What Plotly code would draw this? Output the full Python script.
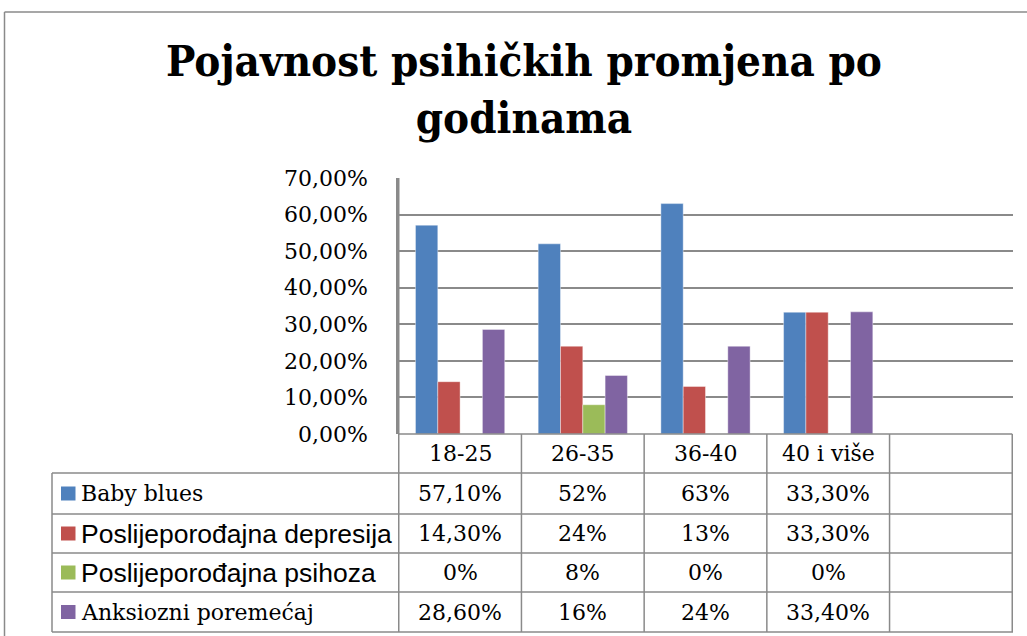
import plotly.graph_objects as go

categories = ["18-25", "26-35", "36-40", "40 i više", " "]
series_names = ["Baby blues", "Poslijeporođajna depresija",
                "Poslijeporođajna psihoza", "Anksiozni poremećaj"]
baby_blues = [0.571, 0.52, 0.63, 0.333, None]
depresija = [0.143, 0.24, 0.13, 0.333, None]
psihoza = [0.0, 0.08, 0.0, 0.0, None]
anksiozni = [0.286, 0.16, 0.24, 0.334, None]
table_text = [
    ["57,10%", "52%", "63%", "33,30%", ""],
    ["14,30%", "24%", "13%", "33,30%", ""],
    ["0%", "8%", "0%", "0%", ""],
    ["28,60%", "16%", "24%", "33,40%", ""],
]
colors = ["#4F81BD", "#C0504D", "#9BBB59", "#8064A2"]
label_fonts = [("DejaVu Serif", 22), ("Liberation Sans", 26.5),
               ("Liberation Sans", 26.5), ("DejaVu Serif", 22)]

W, H = 1027, 636
L, R, T, B = 398, 14, 178, 202
PW, PH = W - L - R, H - T - B
GRID = "#8a8a8a"


def px(x):
    return (x - L) / PW


def py(y):
    return (H - B - y) / PH


fig = go.Figure()
for name, vals, c in zip(series_names, [baby_blues, depresija, psihoza, anksiozni], colors):
    fig.add_trace(go.Bar(x=categories, y=vals, name=name, marker_color=c,
                         marker_line=dict(color="rgba(255,255,255,0.5)", width=0.8)))

# table geometry (pixels)
row_edges = [434, 473, 514, 553, 592, 632]
left_edge = 52
line = dict(color=GRID, width=1.5)
shapes = []
shapes.append(dict(type="line", xref="x", yref="paper", x0=-0.5, x1=4.5,
                   y0=py(row_edges[0]), y1=py(row_edges[0]), line=line))
for ye in row_edges[1:]:
    shapes.append(dict(type="line", xref="paper", yref="paper", x0=px(left_edge), x1=1,
                       y0=py(ye), y1=py(ye), line=line))
for i in range(len(categories) + 1):
    shapes.append(dict(type="line", xref="x", yref="paper", x0=i - 0.5, x1=i - 0.5,
                       y0=py(row_edges[0]) if i > 0 else 1, y1=py(row_edges[-1]), line=line))
shapes.append(dict(type="line", xref="paper", yref="paper", x0=px(left_edge), x1=px(left_edge),
                   y0=py(row_edges[1]), y1=py(row_edges[-1]), line=line))
# outer chart border
shapes.append(dict(type="line", xref="paper", yref="paper", x0=px(4.5), x1=px(W + 20),
                   y0=py(12), y1=py(12), line=line))
shapes.append(dict(type="line", xref="paper", yref="paper", x0=px(4.5), x1=px(4.5),
                   y0=py(12), y1=py(H + 20), line=line))

annotations = []
# title
annotations.append(dict(x=px(524), y=py(89), xref="paper", yref="paper",
                        text="<b>Pojavnost psihičkih promjena po<br>godinama</b>",
                        showarrow=False, xanchor="center", yanchor="middle",
                        font=dict(family="DejaVu Serif Condensed", size=43.5, color="black")))
# header row
hc = (row_edges[0] + row_edges[1]) / 2
for cat in categories:
    annotations.append(dict(x=cat, y=py(hc), xref="x", yref="paper", text=cat, showarrow=False,
                            xanchor="center", yanchor="middle",
                            font=dict(family="DejaVu Serif", size=22, color="black")))
# data rows
for r, (name, c, (fam, fs)) in enumerate(zip(series_names, colors, label_fonts)):
    yc = (row_edges[r + 1] + row_edges[r + 2]) / 2
    shapes.append(dict(type="rect", xref="paper", yref="paper", x0=px(61), x1=px(75.5),
                       y0=py(yc - 7), y1=py(yc + 7), fillcolor=c, line=dict(width=0)))
    annotations.append(dict(x=px(78.5), y=py(yc), xref="paper", yref="paper", text=name,
                            xanchor="left", yanchor="middle", showarrow=False,
                            font=dict(family=fam, size=fs, color="black")))
    for cat, t in zip(categories, table_text[r]):
        annotations.append(dict(x=cat, y=py(yc), xref="x", yref="paper", text=t, showarrow=False,
                                xanchor="center", yanchor="middle",
                                font=dict(family="DejaVu Serif", size=22, color="black")))

fig.update_layout(
    width=W, height=H,
    margin=dict(l=L, r=R, t=T, b=B),
    paper_bgcolor="white", plot_bgcolor="white",
    separators=", ",
    barmode="group", bargap=1.5 / 5.5, bargroupgap=0,
    showlegend=False,
    xaxis=dict(showticklabels=False, showgrid=False, showline=False, ticks=""),
    yaxis=dict(range=[0, 0.7], dtick=0.1, tickformat=".2%", showgrid=True, gridcolor=GRID,
               gridwidth=1.5, zeroline=False, showline=True, linecolor=GRID, linewidth=1.5,
               ticks="", ticklabelstandoff=24,
               tickfont=dict(family="DejaVu Serif", size=22, color="black")),
    shapes=shapes,
    annotations=annotations,
)
# drop the default page margin so the figure sits at the window's top-left corner
fig.write_html("out.html", config={"displayModeBar": False},
               post_script="document.body.style.margin='0';")
